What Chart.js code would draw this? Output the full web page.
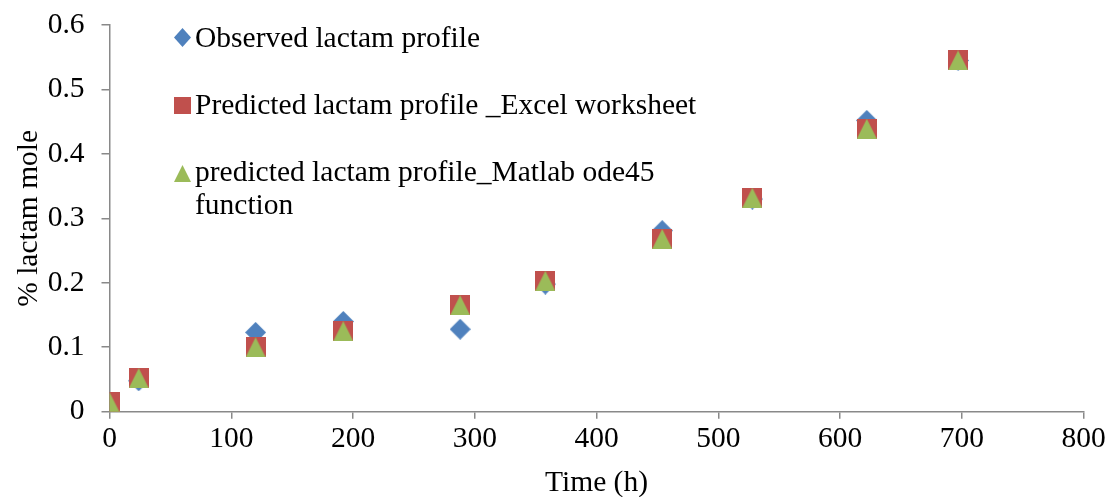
<!DOCTYPE html>
<html>
<head>
<meta charset="utf-8">
<script src="https://cdn.jsdelivr.net/npm/chart.js@4.4.1/dist/chart.umd.min.js"></script>
<style>
  html, body { margin: 0; padding: 0; background: #ffffff; }
  #wrap { position: relative; width: 1109px; height: 497px; }
  #chart { position: absolute; left: 0; top: 0; }
  .leg { position: absolute; font-family: "Liberation Serif", "Times New Roman", serif;
         font-size: 29.5px; line-height: 33px; color: #000; white-space: nowrap; }
  .legmark { position: absolute; }
</style>
</head>
<body>
<div id="wrap">
  <canvas id="chart" width="1109" height="497"></canvas>
</div>
<script>
// Sampling times (h)
const timeHours = [0, 24, 120, 192, 288, 358, 454, 528, 622, 697];
// % lactam mole, measured
const observedLactam = [0.012, 0.048, 0.123, 0.140, 0.128, 0.198, 0.281, 0.330, 0.452, 0.545];
// % lactam mole, Excel worksheet model
const excelLactam = [0.015, 0.052, 0.100, 0.125, 0.165, 0.203, 0.268, 0.332, 0.439, 0.545];
// % lactam mole, Matlab ode45 model
const matlabLactam = [0.015, 0.052, 0.100, 0.125, 0.165, 0.203, 0.268, 0.332, 0.439, 0.545];

const seriesNames = [
  'Observed lactam profile',
  'Predicted lactam profile _Excel worksheet',
  'predicted lactam profile_Matlab ode45 function'
];
const xTicks = [0, 100, 200, 300, 400, 500, 600, 700, 800];
const yTicks = [0, 0.1, 0.2, 0.3, 0.4, 0.5, 0.6];

const BLUE = '#4F81BD', RED = '#C0504D', GREEN = '#9BBB59';

// Office-style marker glyphs
function marker(shape, color, w, h) {
  const c = document.createElement('canvas');
  c.width = w; c.height = h;
  const g = c.getContext('2d');
  g.fillStyle = color;
  g.beginPath();
  if (shape === 'diamond') {
    g.moveTo(w / 2, 0); g.lineTo(w, h / 2); g.lineTo(w / 2, h); g.lineTo(0, h / 2);
  } else if (shape === 'square') {
    g.rect(0, 0, w, h);
  } else {
    g.moveTo(w / 2, 0); g.lineTo(w, h); g.lineTo(0, h);
  }
  g.closePath();
  g.fill();
  return c;
}

const pts = (ys) => timeHours.map((t, i) => ({ x: t, y: ys[i] }));

const axisGrey = '#898989';
const serif = "'Liberation Serif', 'Times New Roman', serif";

new Chart(document.getElementById('chart'), {
  type: 'scatter',
  data: {
    datasets: [
      { label: seriesNames[0], data: pts(observedLactam), pointStyle: marker('diamond', BLUE, 21, 21), order: 3 },
      { label: seriesNames[1], data: pts(excelLactam), pointStyle: marker('square', RED, 20, 20), order: 2 },
      { label: seriesNames[2], data: pts(matlabLactam), pointStyle: marker('triangle', GREEN, 20, 20), order: 1 }
    ]
  },
  options: {
    responsive: false,
    animation: false,
    devicePixelRatio: 1,
    layout: { padding: { top: 25, right: 25.5, bottom: 0, left: 0 } },
    plugins: { legend: { display: false }, tooltip: { enabled: false } },
    scales: {
      x: {
        type: 'linear', min: 0, max: 800,
        afterBuildTicks: (s) => { s.ticks = xTicks.map(v => ({ value: v })); },
        afterFit: (s) => { s.height = 85.3; s.paddingLeft = 0; s.paddingRight = 0; },
        border: { color: axisGrey, width: 1.5 },
        grid: { drawOnChartArea: false, color: axisGrey, tickLength: 7, lineWidth: 1.5 },
        ticks: { color: '#000', font: { family: serif, size: 29.5 }, padding: 3, maxRotation: 0 },
        title: { display: true, text: 'Time (h)', color: '#000',
                 font: { family: serif, size: 29.5, lineHeight: 0.8 }, padding: { top: 0, bottom: 2 } }
      },
      y: {
        type: 'linear', min: 0, max: 0.6,
        afterBuildTicks: (s) => { s.ticks = yTicks.map(v => ({ value: v })); },
        afterFit: (s) => { s.width = 109.5; s.paddingTop = 0; s.paddingBottom = 0; },
        border: { color: axisGrey, width: 1.5 },
        grid: { drawOnChartArea: false, color: axisGrey, tickLength: 8, lineWidth: 1.5 },
        ticks: { color: '#000', font: { family: serif, size: 29.5 }, padding: 17,
                 callback: (v) => String(Number(v.toFixed(1))) },
        title: { display: true, text: '% lactam mole', color: '#000',
                 font: { family: serif, size: 29.5, lineHeight: 1.2 }, padding: { top: 12, bottom: 0 } }
      }
    }
  }
});

// Legend placed inside the plot area, top-left
const wrap = document.getElementById('wrap');
const legendRows = [
  { shape: 'diamond', color: BLUE, mw: 17, mh: 19, cx: 182, cy: 37, top: 21, text: seriesNames[0] },
  { shape: 'square', color: RED, mw: 17, mh: 17, cx: 182.5, cy: 105, top: 88, text: seriesNames[1] },
  { shape: 'triangle', color: GREEN, mw: 17, mh: 17, cx: 182.5, cy: 173, top: 155,
    text: 'predicted lactam profile_Matlab ode45<br>function' }
];
legendRows.forEach(r => {
  const m = marker(r.shape, r.color, r.mw, r.mh);
  m.className = 'legmark';
  m.style.left = (r.cx - r.mw / 2) + 'px';
  m.style.top = (r.cy - r.mh / 2) + 'px';
  wrap.appendChild(m);
  const t = document.createElement('div');
  t.className = 'leg';
  t.style.left = '195px';
  t.style.top = r.top + 'px';
  t.innerHTML = r.text;
  wrap.appendChild(t);
});
</script>
</body>
</html>
